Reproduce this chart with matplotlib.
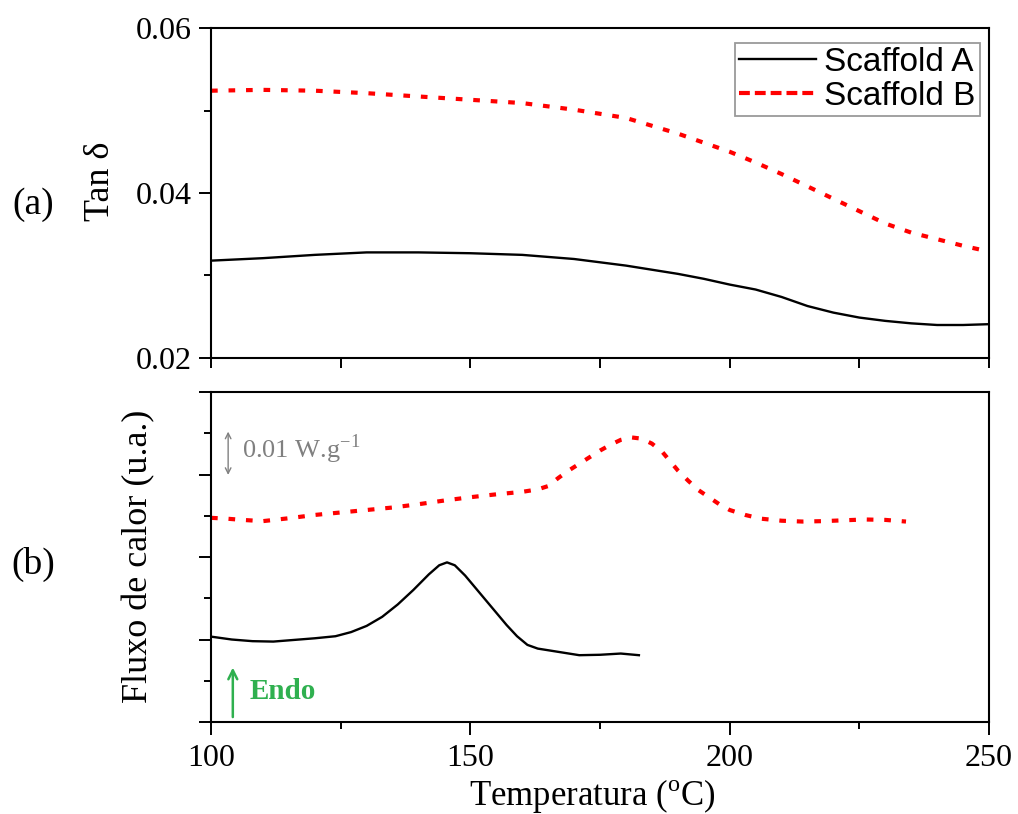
import matplotlib
matplotlib.use("Agg")
import matplotlib.pyplot as plt
from matplotlib.lines import Line2D
from matplotlib.ticker import MultipleLocator, NullFormatter, FormatStrFormatter

plt.rcParams["font.family"] = ["Liberation Serif", "DejaVu Serif"]
plt.rcParams["mathtext.fontset"] = "custom"
plt.rcParams["mathtext.rm"] = "Liberation Serif"

# (a) tan delta vs temperature
temp_tan = [100, 110, 120, 130, 140, 150, 160, 170, 180, 190, 195, 200,
            205, 210, 215, 220, 225, 230, 235, 240, 245, 250]
tan_a = [0.0318, 0.0321, 0.0325, 0.0328, 0.0328, 0.0327, 0.0325, 0.0320,
         0.0312, 0.0302, 0.0296, 0.0289, 0.0283, 0.0274, 0.0263, 0.0255,
         0.0249, 0.0245, 0.0242, 0.0240, 0.0240, 0.0241]
tan_b = [0.0524, 0.0525, 0.0524, 0.0521, 0.0517, 0.0513, 0.0509, 0.0501,
         0.0491, 0.0472, 0.0461, 0.0450, 0.0437, 0.0423, 0.0408, 0.0393,
         0.0378, 0.0363, 0.0352, 0.0344, 0.0336, 0.0329]

# (b) DSC heat flow (arbitrary units, 1 unit = 0.01 W/g)
temp_dsc_a = [100, 104, 108, 112, 116, 120, 124, 127, 130, 133, 136, 139,
              142, 144, 145.5, 147, 149, 151, 153, 155, 157, 159, 161, 163,
              165, 168, 171, 175, 179, 182.5]
dsc_a = [2.07, 2.00, 1.96, 1.95, 1.99, 2.03, 2.08, 2.18, 2.33, 2.55, 2.85,
         3.20, 3.58, 3.80, 3.87, 3.80, 3.55, 3.25, 2.95, 2.65, 2.35, 2.08,
         1.87, 1.78, 1.74, 1.68, 1.62, 1.63, 1.66, 1.62]
temp_dsc_b = [100, 103, 106, 110, 115, 120, 125, 130, 135, 140, 145, 150,
              155, 160, 163, 165, 167, 169, 171, 173, 175, 177, 179, 181,
              183, 185, 187, 190, 192, 194, 196, 198, 200, 203, 206, 210,
              214, 218, 222, 226, 230, 234]
dsc_b = [4.95, 4.93, 4.90, 4.87, 4.94, 5.02, 5.08, 5.14, 5.20, 5.28, 5.37,
         5.45, 5.52, 5.58, 5.64, 5.72, 5.92, 6.10, 6.26, 6.42, 6.58, 6.72,
         6.84, 6.90, 6.87, 6.75, 6.55, 6.10, 5.85, 5.62, 5.45, 5.28, 5.14,
         5.02, 4.93, 4.88, 4.86, 4.87, 4.89, 4.91, 4.90, 4.86]

series_labels = ["Scaffold A", "Scaffold B"]

RED = "#ff0000"
DOT = (0, (1.6, 2.6))
LW_A = 1.7
LW_B = 3.0

fig = plt.figure(figsize=(10.18, 8.14), dpi=100)
ax1 = fig.add_axes([0.2073, 0.5602, 0.7642, 0.4054])
ax2 = fig.add_axes([0.2073, 0.1130, 0.7642, 0.4054])

ax1.plot(temp_tan, tan_a, color="black", lw=LW_A)
ax1.plot(temp_tan, tan_b, color=RED, lw=LW_B, ls=DOT)
ax2.plot(temp_dsc_a, dsc_a, color="black", lw=LW_A)
ax2.plot(temp_dsc_b, dsc_b, color=RED, lw=LW_B, ls=DOT)

for ax in (ax1, ax2):
    ax.set_xlim(100, 250)
    ax.xaxis.set_major_locator(MultipleLocator(50))
    ax.xaxis.set_minor_locator(MultipleLocator(25))
    ax.tick_params(which="major", direction="out", length=9, width=1.4,
                   labelsize=23, pad=5)
    ax.tick_params(which="minor", direction="out", length=5, width=1.4)
    for sp in ax.spines.values():
        sp.set_linewidth(1.5)

ax1.set_ylim(0.02, 0.06)
ax1.yaxis.set_major_locator(MultipleLocator(0.02))
ax1.yaxis.set_minor_locator(MultipleLocator(0.01))
ax1.yaxis.set_major_formatter(FormatStrFormatter("%.2f"))
ax1.xaxis.set_major_formatter(NullFormatter())
ax1.tick_params(axis="x", which="both", length=7)

ax2.set_ylim(0, 8)
ax2.yaxis.set_major_locator(MultipleLocator(2))
ax2.yaxis.set_minor_locator(MultipleLocator(1))
ax2.yaxis.set_major_formatter(NullFormatter())
ax2.tick_params(axis="x", which="major", pad=7)
ax2.set_xlabel("Temperatura ($^{\\mathregular{o}}$C)", fontsize=25)
ax2.xaxis.set_label_coords(0.49, -0.166)

# legend with a longer dash for Scaffold B
handles = [Line2D([], [], color="black", lw=LW_A),
           Line2D([], [], color=RED, lw=3.0, ls=(0, (2.6, 1.2)))]
leg = ax1.legend(handles, series_labels, loc="upper right",
                 bbox_to_anchor=(0.988, 0.955),
                 prop={"family": "Liberation Sans", "size": 24},
                 frameon=True, fancybox=False, edgecolor="#808080",
                 handlelength=2.3, handletextpad=0.25, borderpad=0.12,
                 labelspacing=0.08, borderaxespad=0)
leg.get_frame().set_linewidth(1.3)

# axis titles and panel letters
fig.text(0.099, 0.777, "Tan \u03b4", rotation=90, fontsize=26, ha="center", va="center")
fig.text(0.136, 0.316, "Fluxo de calor (u.a.)", rotation=90, fontsize=26,
         ha="center", va="center")
fig.text(0.033, 0.748, "(a)", fontsize=27, ha="center", va="center")
fig.text(0.033, 0.306, "(b)", fontsize=27, ha="center", va="center")

# scale bar for heat flow
GRAY = "#808080"
ax2.annotate("", xy=(103.3, 7.04), xytext=(103.3, 5.99),
             arrowprops=dict(arrowstyle="<->", color=GRAY, lw=1.0,
                             shrinkA=0, shrinkB=0))
ax2.text(105.9, 6.62, "0.01 W.g$^{\\mathregular{-1}}$", color=GRAY, fontsize=19,
         ha="left", va="center")

# endothermic direction
GREEN = "#2fb04f"
ax2.annotate("", xy=(104.2, 1.32), xytext=(104.2, 0.12),
             arrowprops=dict(arrowstyle="->", color=GREEN, lw=1.8,
                             shrinkA=0, shrinkB=0, mutation_scale=16))
ax2.text(107.4, 0.74, "Endo", color=GREEN, fontsize=21, fontweight="bold",
         ha="left", va="center")

fig.savefig("out.png", dpi=100)
